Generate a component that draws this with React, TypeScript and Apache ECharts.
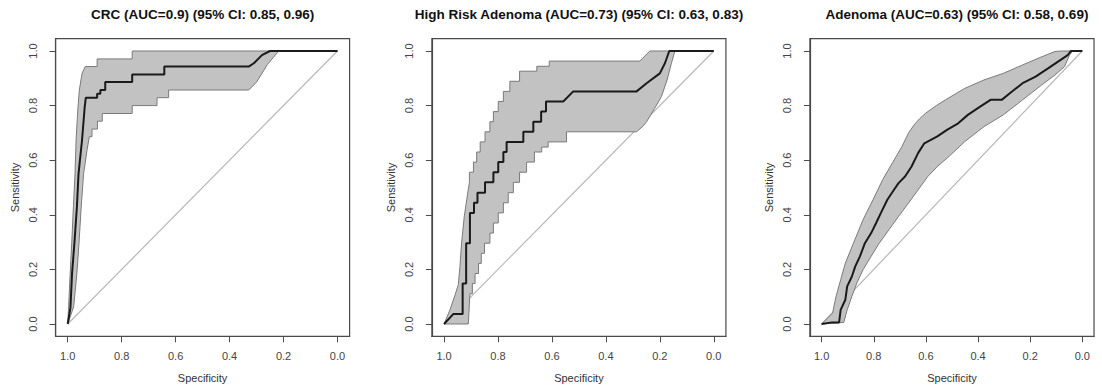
import React, { useEffect, useRef } from "react";
import * as echarts from "echarts";

const titles = [
  "CRC (AUC=0.9) (95% CI: 0.85, 0.96)",
  "High Risk Adenoma (AUC=0.73) (95% CI: 0.63, 0.83)",
  "Adenoma (AUC=0.63) (95% CI: 0.58, 0.69)",
];
const tickValues = [0, 0.2, 0.4, 0.6, 0.8, 1.0];
const xAxisName = "Specificity";
const yAxisName = "Sensitivity";
const diagonal = [[1, 0], [0, 1]];

// CRC panel: [specificity, sensitivity]
const crcCurve = [
  [1, 0], [0.99, 0.06], [0.984, 0.186], [0.975, 0.3], [0.966, 0.43], [0.96, 0.55],
  [0.947, 0.674], [0.937, 0.796], [0.933, 0.829], [0.891, 0.829], [0.891, 0.843],
  [0.879, 0.843], [0.879, 0.857], [0.861, 0.857], [0.861, 0.886], [0.761, 0.886],
  [0.761, 0.914], [0.642, 0.914], [0.642, 0.943], [0.329, 0.943], [0.31, 0.955],
  [0.28, 0.985], [0.25, 1], [0, 1],
];
const crcUpper = [
  [1, 0], [0.995, 0.1], [0.991, 0.186], [0.985, 0.3], [0.979, 0.43], [0.973, 0.55],
  [0.969, 0.674], [0.963, 0.78], [0.957, 0.857], [0.947, 0.918], [0.935, 0.943],
  [0.891, 0.943], [0.891, 0.971], [0.761, 0.971], [0.761, 1], [0, 1],
];
const crcLower = [
  [1, 0], [0.978, 0.063], [0.966, 0.186], [0.958, 0.3], [0.95, 0.43], [0.941, 0.552],
  [0.928, 0.64], [0.92, 0.686], [0.91, 0.686], [0.91, 0.714], [0.89, 0.714],
  [0.89, 0.743], [0.872, 0.743], [0.872, 0.771], [0.761, 0.771], [0.761, 0.8],
  [0.669, 0.8], [0.669, 0.829], [0.626, 0.829], [0.626, 0.857], [0.329, 0.857],
  [0.3, 0.886], [0.26, 0.95], [0.218, 1], [0, 1],
];

// High Risk Adenoma panel
const hraCurve = [
  [1, 0], [0.965, 0.037], [0.931, 0.037], [0.931, 0.148], [0.918, 0.148], [0.918, 0.296],
  [0.904, 0.296], [0.904, 0.407], [0.889, 0.407], [0.889, 0.444], [0.876, 0.444],
  [0.876, 0.481], [0.848, 0.481], [0.848, 0.519], [0.817, 0.519], [0.817, 0.556],
  [0.799, 0.556], [0.799, 0.593], [0.78, 0.593], [0.78, 0.63], [0.768, 0.63],
  [0.768, 0.667], [0.706, 0.667], [0.706, 0.704], [0.669, 0.704], [0.669, 0.741],
  [0.64, 0.741], [0.64, 0.778], [0.622, 0.778], [0.622, 0.815], [0.558, 0.815],
  [0.521, 0.852], [0.286, 0.852], [0.249, 0.882], [0.2, 0.918], [0.181, 0.955],
  [0.165, 1], [0, 1],
];
const hraUpper = [
  [1, 0], [0.978, 0.052], [0.959, 0.107], [0.947, 0.144], [0.941, 0.211], [0.935, 0.296],
  [0.925, 0.394], [0.916, 0.455], [0.906, 0.519], [0.906, 0.556], [0.891, 0.556],
  [0.891, 0.593], [0.879, 0.593], [0.879, 0.63], [0.866, 0.63], [0.866, 0.667],
  [0.848, 0.667], [0.848, 0.704], [0.83, 0.704], [0.83, 0.741], [0.817, 0.741],
  [0.817, 0.778], [0.799, 0.778], [0.799, 0.815], [0.78, 0.815], [0.78, 0.852],
  [0.756, 0.852], [0.756, 0.889], [0.72, 0.889], [0.72, 0.926], [0.656, 0.926],
  [0.656, 0.944], [0.61, 0.944], [0.61, 0.963], [0.274, 0.963], [0.237, 1], [0, 1],
];
const hraLower = [
  [1, 0], [0.91, 0], [0.904, 0.111], [0.895, 0.111], [0.895, 0.148], [0.885, 0.148],
  [0.885, 0.185], [0.872, 0.185], [0.872, 0.222], [0.862, 0.222], [0.862, 0.259],
  [0.85, 0.259], [0.85, 0.296], [0.83, 0.296], [0.83, 0.333], [0.817, 0.333],
  [0.817, 0.37], [0.799, 0.37], [0.799, 0.407], [0.78, 0.407], [0.78, 0.444],
  [0.762, 0.444], [0.762, 0.481], [0.743, 0.481], [0.743, 0.519], [0.72, 0.519],
  [0.72, 0.556], [0.694, 0.556], [0.694, 0.593], [0.665, 0.593], [0.665, 0.63],
  [0.638, 0.63], [0.638, 0.648], [0.614, 0.648], [0.614, 0.667], [0.546, 0.667],
  [0.546, 0.704], [0.286, 0.704], [0.262, 0.725], [0.249, 0.741], [0.219, 0.79],
  [0.194, 0.833], [0.173, 0.894], [0.157, 0.955], [0.144, 1], [0, 1],
];

// Adenoma panel
const adnCurve = [
  [1, 0], [0.96, 0.006], [0.933, 0.006], [0.927, 0.052], [0.909, 0.089], [0.902, 0.138],
  [0.884, 0.174], [0.871, 0.211], [0.853, 0.248], [0.834, 0.296], [0.81, 0.333],
  [0.791, 0.37], [0.773, 0.406], [0.748, 0.455], [0.723, 0.491], [0.705, 0.516],
  [0.68, 0.54], [0.655, 0.577], [0.63, 0.626], [0.606, 0.662], [0.556, 0.687],
  [0.519, 0.711], [0.476, 0.735], [0.439, 0.766], [0.402, 0.79], [0.352, 0.821],
  [0.309, 0.821], [0.278, 0.845], [0.229, 0.882], [0.179, 0.906], [0.13, 0.937],
  [0.093, 0.961], [0.056, 0.985], [0.043, 1], [0, 1],
];
const adnUpper = [
  [1, 0], [0.958, 0.04], [0.945, 0.1], [0.927, 0.162], [0.909, 0.223], [0.878, 0.296],
  [0.841, 0.382], [0.803, 0.455], [0.766, 0.528], [0.729, 0.589], [0.692, 0.65],
  [0.667, 0.699], [0.645, 0.73], [0.624, 0.752], [0.6, 0.773], [0.56, 0.8],
  [0.525, 0.821], [0.451, 0.863], [0.377, 0.894], [0.303, 0.918], [0.229, 0.949],
  [0.155, 0.979], [0.105, 0.998], [0.08, 1], [0, 1],
];
const adnLower = [
  [1, 0], [0.915, 0.006], [0.902, 0.052], [0.884, 0.101], [0.865, 0.15], [0.841, 0.199],
  [0.81, 0.248], [0.779, 0.296], [0.742, 0.345], [0.705, 0.394], [0.667, 0.443],
  [0.63, 0.491], [0.593, 0.54], [0.556, 0.577], [0.51, 0.615], [0.451, 0.668],
  [0.377, 0.723], [0.303, 0.766], [0.229, 0.821], [0.155, 0.876], [0.105, 0.912],
  [0.068, 0.943], [0.049, 0.985], [0.037, 1], [0, 1],
];

const panels = [
  { title: titles[0], curve: crcCurve, upper: crcUpper, lower: crcLower },
  { title: titles[1], curve: hraCurve, upper: hraUpper, lower: hraLower },
  { title: titles[2], curve: adnCurve, upper: adnUpper, lower: adnLower },
];

const FONT = "'Liberation Sans', Arial, Helvetica, sans-serif";
const gridLefts = [55.6, 431.9, 809.9];
const gridTop = 38.7;
const gridW = 294;
const gridH = 297.6;
const PAD = 0.045;

export default function App() {
  const ref = useRef<HTMLDivElement>(null);
  useEffect(() => {
    if (!ref.current) return;
    const chart = echarts.init(ref.current, null, { renderer: "svg" });
    const grid: any[] = [];
    const xAxis: any[] = [];
    const yAxis: any[] = [];
    const series: any[] = [];
    const title: any[] = [];
    panels.forEach((p, i) => {
      grid.push({
        left: gridLefts[i], top: gridTop, width: gridW, height: gridH,
        show: true, borderColor: "#4a4a4a", borderWidth: 1.2, backgroundColor: "transparent",
        containLabel: false,
      });
      title.push({
        text: p.title, left: gridLefts[i] + gridW / 2, top: 7.5, padding: 0, textAlign: "center",
        textStyle: { fontFamily: FONT, fontSize: 13.5, fontWeight: "bold", color: "#111" },
      });
      xAxis.push({
        type: "value", gridIndex: i, inverse: true, min: -PAD, max: 1 + PAD,
        name: xAxisName, nameLocation: "middle", nameGap: 36,
        nameTextStyle: { fontFamily: FONT, fontSize: 11, color: "#333" },
        axisLine: { show: true, onZero: false, lineStyle: { color: "#4a4a4a", width: 1.2 } },
        axisTick: { show: true, length: 6, customValues: tickValues, lineStyle: { color: "#4a4a4a" } },
        axisLabel: {
          show: true, customValues: tickValues, margin: 14.5,
          formatter: (v: number) => v.toFixed(1),
          fontFamily: FONT, fontSize: 11, color: "#444",
        },
        splitLine: { show: false },
      });
      yAxis.push({
        type: "value", gridIndex: i, min: -PAD, max: 1 + PAD,
        name: yAxisName, nameLocation: "middle", nameGap: 35,
        nameTextStyle: { fontFamily: FONT, fontSize: 11, color: "#333" },
        axisLine: { show: true, onZero: false, lineStyle: { color: "#4a4a4a", width: 1.2 } },
        axisTick: { show: true, length: 6, customValues: tickValues, lineStyle: { color: "#4a4a4a" } },
        axisLabel: {
          show: true, customValues: tickValues, margin: 17, rotate: 90,
          formatter: (v: number) => v.toFixed(1),
          fontFamily: FONT, fontSize: 11, color: "#444",
        },
        splitLine: { show: false },
      });
      // diagonal reference line
      series.push({
        type: "line", xAxisIndex: i, yAxisIndex: i, data: diagonal, showSymbol: false,
        lineStyle: { color: "#b8b8b8", width: 1.2 }, silent: true, z: 1,
      });
      // confidence band polygon
      const polygon = p.upper.concat(p.lower.slice().reverse());
      series.push({
        type: "custom", xAxisIndex: i, yAxisIndex: i, coordinateSystem: "cartesian2d",
        data: [polygon[0]], silent: true, z: 2,
        renderItem: (_params: any, api: any) => ({
          type: "polygon",
          shape: { points: polygon.map((pt) => api.coord(pt)) },
          style: { fill: "#c2c2c2", stroke: "none" },
        }),
      });
      series.push({
        type: "line", xAxisIndex: i, yAxisIndex: i, data: p.upper, showSymbol: false,
        lineStyle: { color: "#7a7a7a", width: 1 }, silent: true, z: 3,
      });
      series.push({
        type: "line", xAxisIndex: i, yAxisIndex: i, data: p.lower, showSymbol: false,
        lineStyle: { color: "#7a7a7a", width: 1 }, silent: true, z: 3,
      });
      series.push({
        type: "line", xAxisIndex: i, yAxisIndex: i, data: p.curve, showSymbol: false,
        lineStyle: { color: "#1a1a1a", width: 2 }, silent: true, z: 4,
      });
    });
    chart.setOption({
      animation: false,
      backgroundColor: "#fff",
      title, grid, xAxis, yAxis, series,
    });
    return () => chart.dispose();
  }, []);
  return (
    <div
      ref={ref}
      style={{ position: "absolute", left: 0, top: 0, width: 1102, height: 391 }}
    />
  );
}
